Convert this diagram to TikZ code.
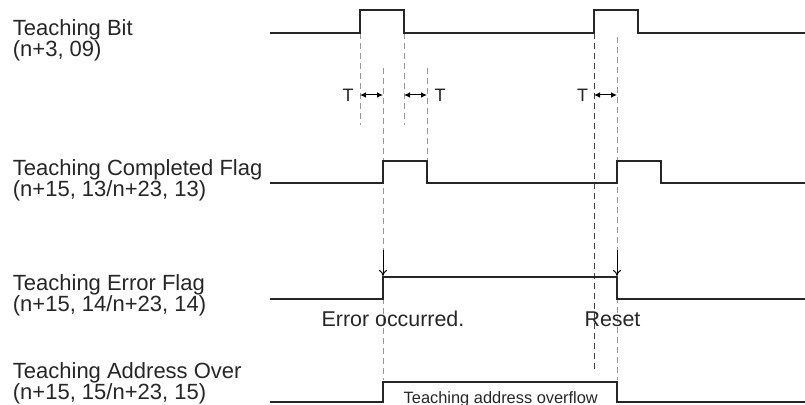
\documentclass[tikz,border=0pt]{standalone}
\usepackage{fontspec}
\setmainfont{Liberation Sans}
\usetikzlibrary{arrows.meta}
\newcommand\tightlines{\lineskiplimit=-20pt\relax}
\tikzset{
  signal/.style={line width=0.8pt, draw=black!85},
  guide/.style={draw=black!40, line width=0.5pt, dash pattern=on 3pt off 2pt},
  darkguide/.style={guide, draw=black!75},
  siglabel/.style={anchor=north west, align=left, inner sep=0pt, font={\fontsize{11}{10.45}\selectfont\tightlines}, text=black!85},
  note/.style={anchor=base, inner sep=0pt, font=\fontsize{10.7}{11}\selectfont, text=black!85},
  tmark/.style={anchor=base, inner sep=0pt, font=\fontsize{9}{9}\selectfont, text=black!85},
  tspan/.style={{Latex[length=3pt,width=2.8pt]}-{Latex[length=3pt,width=2.8pt]}, line width=0.5pt},
  drop/.style={-{To[length=3pt,width=4pt]}, line width=0.5pt}
}
\begin{document}
\begin{tikzpicture}[x=0.5pt,y=-0.5pt]
\useasboundingbox (0,0) rectangle (805,405);

% signal names
\node[siglabel] (bitname) at (12.5,19.5) {Teaching Bit\\(n+3, 09)};
\node[siglabel] (cmpname) at (12.5,159.5) {Teaching Completed Flag\\(n+15, 13/n+23, 13)};
\node[siglabel] (errname) at (12.5,274.5) {Teaching Error Flag\\(n+15, 14/n+23, 14)};
\node[siglabel] (ovfname) at (12.5,362.5) {Teaching Address Over\\(n+15, 15/n+23, 15)};

% timing guides
\draw[guide] (360,33) -- (360,125);
\draw[guide] (404,33) -- (404,125);
\draw[guide] (383,68) -- (383,380);
\draw[guide] (427,68) -- (427,161);
\draw[darkguide] (594,33) -- (594,370);
\draw[guide] (617,37) -- (617,380);

% waveforms
\draw[signal] (270,33) -| (360,10) -| (404,33) -| (594,10) -| (638,33) -- (805,33);
\draw[signal] (270,183) -| (383,161) -| (427,183) -| (617,161) -| (661,183) -- (805,183);
\draw[signal] (270,299) -| (383,277) -| (617,299) -- (805,299);
\draw[signal] (270,402) -| (383,382) -| (617,402) -- (805,402);

% delay marks
\coordinate (ta1) at (360,95);  \coordinate (tb1) at (383,95);
\coordinate (ta2) at (404,95);  \coordinate (tb2) at (427,95);
\coordinate (ta3) at (594,95);  \coordinate (tb3) at (617,95);
\node[tmark] (t1) at (348,101.7) {T};
\node[tmark] (t2) at (440,101.7) {T};
\node[tmark] (t3) at (582.5,101.7) {T};
\draw[tspan] (ta1) -- (tb1);
\draw[tspan] (ta2) -- (tb2);
\draw[tspan] (ta3) -- (tb3);

% error flag events
\coordinate (setfrom) at (383,250);  \coordinate (setto) at (383,276);
\coordinate (rstfrom) at (617,250);  \coordinate (rstto) at (617,276);
\draw[drop] (setfrom) -- (setto);
\draw[drop] (rstfrom) -- (rstto);
\node[note] (errtext) at (393,326.7) {Error occurred.};
\node[note] (rsttext) at (612.5,326.7) {Reset};
\node[note, font=\fontsize{8.2}{8.2}\selectfont] (ovftext) at (500.8,404) {Teaching address overflow};
\end{tikzpicture}
\end{document}
